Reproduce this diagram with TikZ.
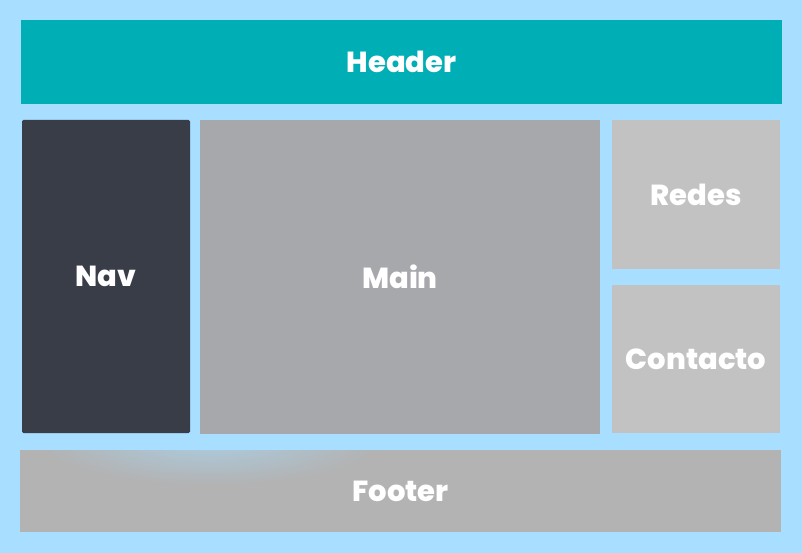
\documentclass[tikz,border=0pt]{standalone}
\usepackage{fontspec}
\setmainfont{Poppins}[BoldFont={Poppins ExtraBold}]
\usetikzlibrary{positioning,fadings}
\definecolor{fondo}{HTML}{A8DEFF}
\definecolor{cabecera}{HTML}{00AEB6}
\definecolor{navegacion}{HTML}{383D47}
\definecolor{principal}{HTML}{A7A8AC}
\definecolor{lateral}{HTML}{C2C2C2}
\definecolor{pie}{HTML}{B3B3B3}
\tikzfading[name=brillo, inner color=transparent!0, outer color=transparent!100]
\tikzset{caja/.style={rectangle,inner sep=0pt,text=white,font=\bfseries\fontsize{29}{32}\selectfont}}

\begin{document}
\begin{tikzpicture}[x=1pt,y=-1pt]
  % Fondo
  \fill[fondo] (0,0) rectangle (802,553);
  \useasboundingbox (0,0) rectangle (802,553);

  % Cabecera
  \node[caja,fill=cabecera,minimum width=761pt,minimum height=84pt] (header) at (401.5,62) {Header};

  % Columnas
  \node[caja,fill=navegacion,rounded corners=1.5pt,minimum width=168pt,minimum height=313pt] (nav) at (106,276.5) {Nav};
  \node[caja,fill=principal,minimum width=400pt,minimum height=314pt] (main) at (400,277) {Main};
  \node[caja,fill=lateral,minimum width=168pt,minimum height=149pt] (redes) at (696,194.5) {Redes};
  \node[caja,fill=lateral,minimum width=168pt,minimum height=148pt] (contacto) at (696,359) {Contacto};

  % Pie
  \node[caja,fill=pie,minimum width=761pt,minimum height=82pt] (footer) at (400.5,491) {};
  \begin{scope}
    \clip (footer.south west) rectangle (footer.north east);
    \fill[fondo,opacity=0.6,path fading=brillo] (210,440) ellipse (170pt and 45pt);
  \end{scope}
  \node[caja] at (footer.center) {Footer};

\end{tikzpicture}
\end{document}
